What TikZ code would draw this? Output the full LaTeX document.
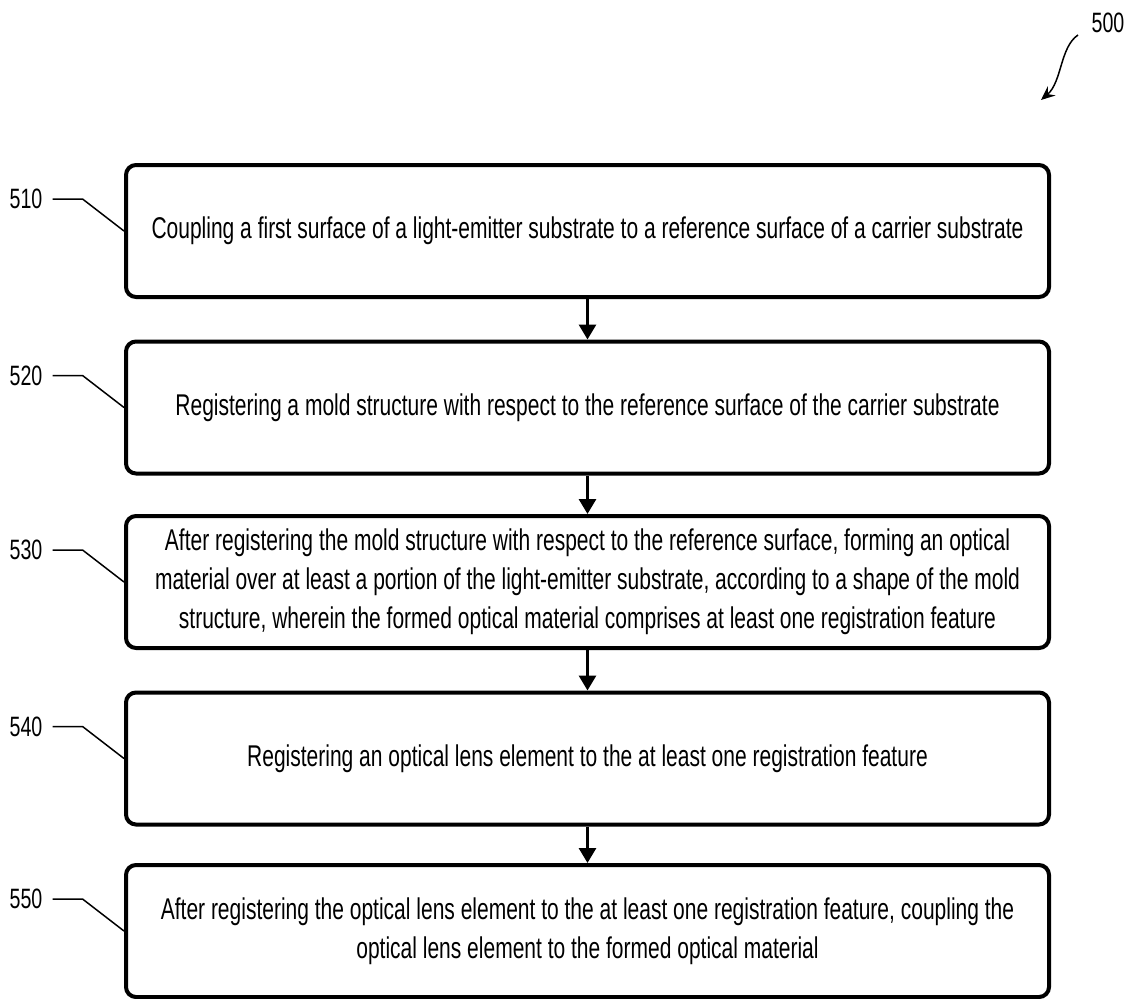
\documentclass[tikz,border=0pt]{standalone}
\usepackage{fontspec}
\setmainfont{Liberation Sans}[FakeStretch=0.70]
\usepackage{tikz}
\usetikzlibrary{arrows.meta,positioning}

\begin{document}
\begin{tikzpicture}[x=1pt,y=-1pt,
  stepbox/.style={draw,line width=4pt,rounded corners=10pt,minimum width=923pt,
    minimum height=132pt,inner sep=0pt,align=center,font=\fontsize{30}{39}\selectfont},
  reflabel/.style={inner sep=0pt,font=\fontsize{28}{30}\selectfont},
  leader/.style={line width=1.5pt},
  flowarrow/.style={line width=3pt,-{Triangle[width=17pt,length=15pt]}}]
\useasboundingbox (0,0) rectangle (1131,998);

% Steps
\node[stepbox] (s510) at (587.5,231) {Coupling a first surface of a light-emitter substrate to a reference surface of a carrier substrate};
\node[stepbox] (s520) at (587.5,407.5) {Registering a mold structure with respect to the reference surface of the carrier substrate};
\node[stepbox] (s530) at (587.5,582) {After registering the mold structure with respect to the reference surface, forming an optical\\material over at least a portion of the light-emitter substrate, according to a shape of the mold\\structure, wherein the formed optical material comprises at least one registration feature};
\node[stepbox] (s540) at (587.5,758.5) {Registering an optical lens element to the at least one registration feature};
\node[stepbox] (s550) at (587.5,931) {After registering the optical lens element to the at least one registration feature, coupling the\\optical lens element to the formed optical material};

% Flow arrows
\foreach \a/\b in {510/520,520/530,530/540,540/550}
  \draw[flowarrow] (s\a) -- (s\b);

% Reference numerals with leader lines
\foreach \n in {510,520,530,540,550} {
  \node[reflabel] (l\n) at ([xshift=-98pt,yshift=32pt]s\n.west) {\n};
  \draw[leader] ([xshift=10pt]l\n.east) -- ++(30,0) -- (s\n.west);
}

% Figure number
\node[reflabel] (l500) at (1108,23) {500};
\coordinate (a500) at (1041,100);
\draw[leader,-{Stealth[width=12pt,length=14pt,inset=5pt]}] (1078,35) .. controls (1060,47) and (1062,82) .. (a500);
\end{tikzpicture}
\end{document}
